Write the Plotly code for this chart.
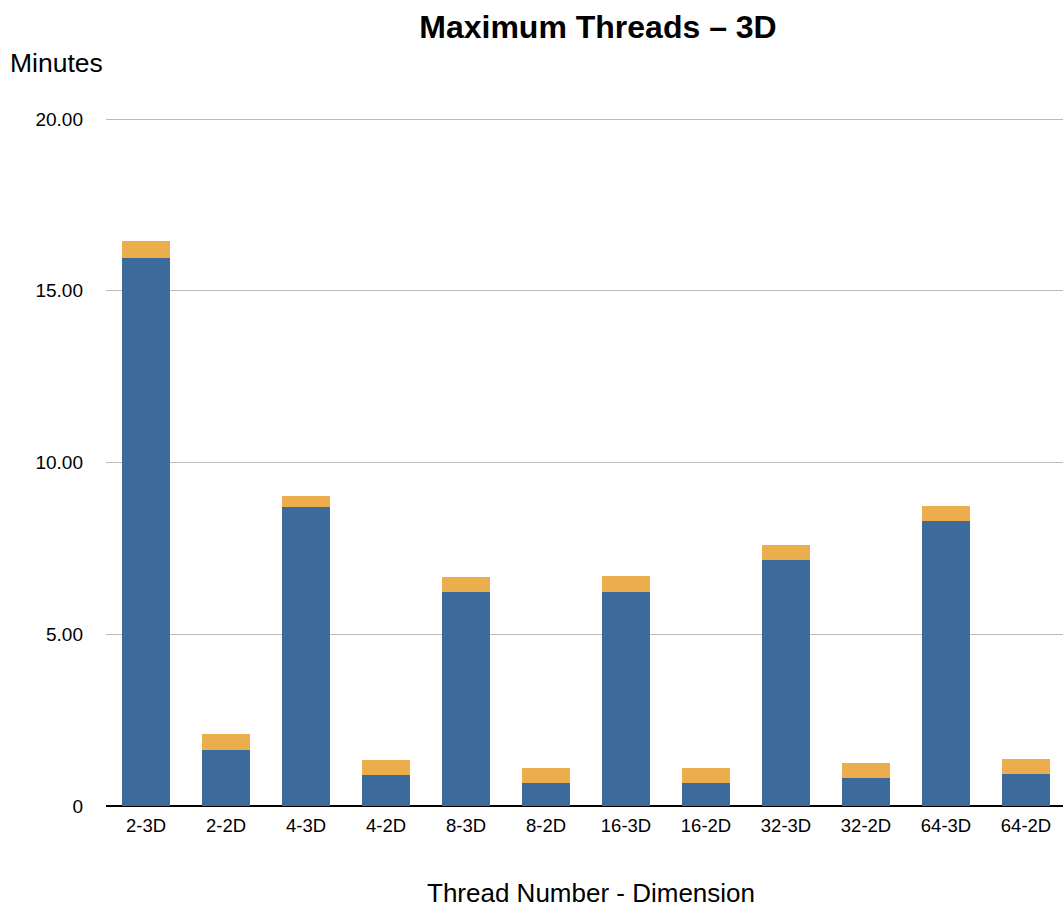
import plotly.graph_objects as go

# Categories: thread count and dimension
categories = ["2-3D", "2-2D", "4-3D", "4-2D", "8-3D", "8-2D",
              "16-3D", "16-2D", "32-3D", "32-2D", "64-3D", "64-2D"]

# Stacked components (minutes)
base_minutes = [15.96, 1.63, 8.71, 0.90, 6.23, 0.67, 6.23, 0.67, 7.17, 0.82, 8.30, 0.93]
extra_minutes = [0.50, 0.47, 0.32, 0.44, 0.44, 0.44, 0.47, 0.44, 0.43, 0.43, 0.44, 0.44]

y_tickvals = [0, 5, 10, 15, 20]
y_ticktext = ["0", "5.00", "10.00", "15.00", "20.00"]

BLUE = "#3C6B9B"
ORANGE = "#ECAE4C"
FONT = "Liberation Sans, Arial, Helvetica, sans-serif"

W, H = 1063, 908
L, R, T, B = 106, 0, 115, 102
Y_MAX = 20.12
plot_w = W - L - R
plot_h = H - T - B
y0_px = H - B  # pixel row of the baseline

fig = go.Figure()
fig.add_trace(go.Bar(x=categories, y=base_minutes, marker=dict(color=BLUE, line=dict(width=0)),
                     width=0.6, showlegend=False))
fig.add_trace(go.Bar(x=categories, y=extra_minutes, marker=dict(color=ORANGE, line=dict(width=0)),
                     width=0.6, showlegend=False))

fig.update_layout(
    width=W, height=H,
    barmode="stack",
    paper_bgcolor="white", plot_bgcolor="white",
    margin=dict(l=L, r=R, t=T, b=B, autoexpand=False),
    font=dict(family=FONT, color="black"),
    title=dict(text="<b>Maximum Threads – 3D</b>", font=dict(size=32, family=FONT, color="black"),
               x=598 / W, xref="container", xanchor="center",
               y=1 - 27 / H, yref="container", yanchor="middle"),
    xaxis=dict(
        type="category",
        range=[-0.5, -0.5 + plot_w / 80],
        showgrid=False, zeroline=False,
        showline=False,
        ticks="", tickfont=dict(size=18.5, family=FONT, color="black"),
        ticklabelstandoff=6,
    ),
    yaxis=dict(
        range=[0, Y_MAX],
        tickvals=y_tickvals, ticktext=y_ticktext,
        showgrid=True, gridcolor="#BBBBBB", gridwidth=1.3,
        zeroline=True, zerolinecolor="black", zerolinewidth=1.6,
        showline=False, ticks="",
        tickfont=dict(size=19, family=FONT, color="black"),
        ticklabelstandoff=22,
    ),
    annotations=[
        dict(text="Minutes", xref="paper", yref="paper",
             x=(8 - L) / plot_w, y=(y0_px - 63) / plot_h,
             xanchor="left", yanchor="middle", showarrow=False,
             font=dict(size=26.5, family=FONT, color="black")),
        dict(text="Thread Number - Dimension", xref="paper", yref="paper",
             x=(591 - L) / plot_w, y=(y0_px - 893) / plot_h,
             xanchor="center", yanchor="middle", showarrow=False,
             font=dict(size=26, family=FONT, color="black")),
    ],
)

fig.write_html("out.html")
